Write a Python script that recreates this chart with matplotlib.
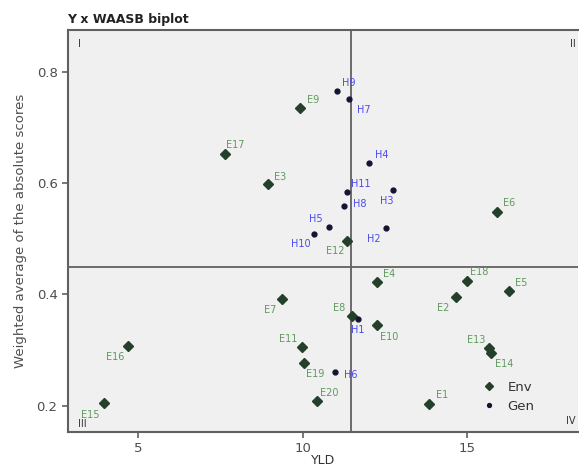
import matplotlib
matplotlib.use("Agg")
import matplotlib.pyplot as plt

# ---- data ----
env_names = ["E1", "E2", "E3", "E4", "E5", "E6", "E7", "E8", "E9", "E10",
             "E11", "E12", "E13", "E14", "E15", "E16", "E17", "E18", "E19", "E20"]
env_yld = [13.84, 14.66, 8.96, 12.26, 16.28, 15.92, 9.37, 11.50, 9.92, 12.26,
           9.97, 11.36, 15.68, 15.72, 3.95, 4.69, 7.64, 14.99, 10.03, 10.45]
env_waasb = [0.203, 0.395, 0.599, 0.423, 0.406, 0.549, 0.392, 0.361, 0.735, 0.345,
             0.305, 0.496, 0.303, 0.294, 0.205, 0.308, 0.653, 0.424, 0.277, 0.209]

gen_names = ["H1", "H2", "H3", "H4", "H5", "H6", "H7", "H8", "H9", "H10", "H11"]
gen_yld = [11.68, 12.52, 12.76, 12.03, 10.81, 10.97, 11.42, 11.27, 11.04, 10.36, 11.36]
gen_waasb = [0.356, 0.520, 0.588, 0.636, 0.522, 0.261, 0.751, 0.559, 0.766, 0.509, 0.584]

mean_yld = 11.47
mean_waasb = 0.449

# label offsets in pixels (dx right, dy down)
label_offsets = {
    "E1": (13, -9), "E2": (-13, 11), "E3": (12, -7), "E4": (12, -8), "E5": (12, -8),
    "E6": (12, -9), "E7": (-12, 11), "E8": (-13, -8), "E9": (13, -8), "E10": (12, 12),
    "E11": (-13, -8), "E12": (-12, 10), "E13": (-13, -8), "E14": (13, 11), "E15": (-13, 12),
    "E16": (-13, 11), "E17": (10, -9), "E18": (12, -9), "E19": (12, 11), "E20": (12, -8),
    "H1": (0, 11), "H2": (-12, 11), "H3": (-7, 11), "H4": (12, -8), "H5": (-13, -8),
    "H6": (16, 3), "H7": (14, 11), "H8": (15, -2), "H9": (12, -8), "H10": (-14, 10),
    "H11": (13, -8),
}

W, H = 579, 468
fig = plt.figure(figsize=(W / 100, H / 100), dpi=100)
ax = fig.add_axes([68 / W, 36 / H, 510 / W, 402 / H])
ax.set_facecolor("#f0f0f0")
ax.set_xlim(2.87, 18.37)
ax.set_ylim(0.153, 0.875)

ax.axvline(mean_yld, color="#606060", lw=1.3, zorder=1)
ax.axhline(mean_waasb, color="#606060", lw=1.3, zorder=1)

env_pt = ax.plot(env_yld, env_waasb, "D", color="#24402a", ms=5, ls="none", zorder=3, label="Env")[0]
gen_pt = ax.plot(gen_yld, gen_waasb, "o", color="#141432", ms=3.5, ls="none", zorder=3, label="Gen")[0]

px2pt = 0.72
for n, x, y in zip(env_names, env_yld, env_waasb):
    dx, dy = label_offsets[n]
    ax.annotate(n, (x, y), xytext=(dx * px2pt, -dy * px2pt), textcoords="offset points",
                ha="center", va="center", fontsize=7, color="#5f9a5f", zorder=4)
for n, x, y in zip(gen_names, gen_yld, gen_waasb):
    dx, dy = label_offsets[n]
    ax.annotate(n, (x, y), xytext=(dx * px2pt, -dy * px2pt), textcoords="offset points",
                ha="center", va="center", fontsize=7, color="#4a4aee", zorder=4)

# quadrant labels
qkw = dict(transform=ax.transAxes, fontsize=7, color="#333333")
ax.text(0.02, 0.965, "I", ha="left", va="center", **qkw)
ax.text(0.995, 0.965, "II", ha="right", va="center", **qkw)
ax.text(0.02, 0.02, "III", ha="left", va="center", **qkw)
ax.text(0.995, 0.027, "IV", ha="right", va="center", **qkw)

for s in ["left", "bottom", "top"]:
    ax.spines[s].set_color("#606060")
    ax.spines[s].set_linewidth(1.5)
ax.spines["right"].set_visible(False)

ax.set_xticks([5, 10, 15])
ax.set_yticks([0.2, 0.4, 0.6, 0.8])
ax.tick_params(colors="#606060", labelcolor="#4d4d4d", labelsize=9.5, length=4, width=1.2)
ax.set_xlabel("YLD", fontsize=9, color="#333333", labelpad=-1)
ax.set_ylabel("Weighted average of the absolute scores", fontsize=9.5, color="#4d4d4d", labelpad=7)

fig.text(67 / W, 1 - 19 / H, "Y x WAASB biplot", fontsize=9, fontweight="bold",
         color="#222222", ha="left", va="center")

leg = fig.legend(handles=[env_pt, gen_pt], loc="center left",
                 bbox_to_anchor=(484 / W, 1 - 397 / H), borderaxespad=0, borderpad=0,
                 frameon=False, fontsize=9.5, handlelength=0.8, handletextpad=1.0,
                 labelspacing=0.45, markerscale=0.8)
for t in leg.get_texts():
    t.set_color("#333333")

fig.savefig("out.png", dpi=100)
